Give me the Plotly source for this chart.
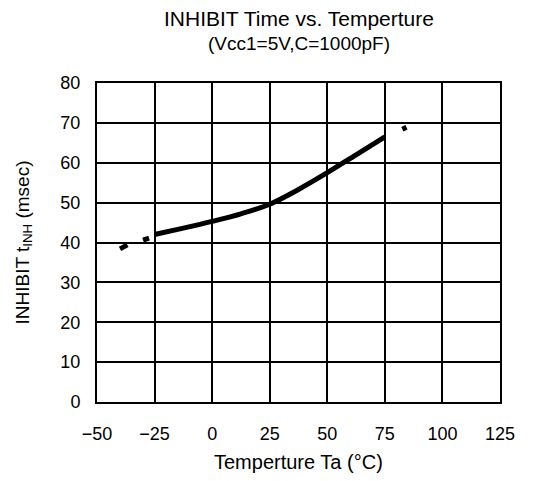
import plotly.graph_objects as go

# Data
temp_solid = [-25, -12.5, 0, 12.5, 25, 37.5, 50, 62.5, 75]
tinh_solid = [42.0, 43.6, 45.3, 47.2, 49.6, 53.3, 57.5, 62.0, 66.5]

# dashed (extrapolated) segments, separated by None
temp_dash = [-40, -36.8, None, -30, -27.4, None, 82.6, 84.4]
tinh_dash = [38.4, 39.4, None, 40.6, 41.1, None, 68.4, 68.9]

x_ticks = [-50, -25, 0, 25, 50, 75, 100, 125]
y_ticks = [0, 10, 20, 30, 40, 50, 60, 70, 80]

title_line1 = "INHIBIT Time vs. Temperture"
title_line2 = "(Vcc1=5V,C=1000pF)"
x_title = "Temperture Ta (°C)"
y_title = "INHIBIT t<sub>INH</sub> (msec)"

FONT = "Liberation Sans, Arial, sans-serif"

fig = go.Figure()
fig.add_trace(go.Scatter(x=temp_solid, y=tinh_solid, mode="lines",
                         line=dict(color="black", width=5, shape="spline"),
                         showlegend=False, hoverinfo="skip"))
fig.add_trace(go.Scatter(x=temp_dash, y=tinh_dash, mode="lines",
                         line=dict(color="black", width=5),
                         connectgaps=False, showlegend=False, hoverinfo="skip"))

axis_common = dict(showgrid=True, gridcolor="black", gridwidth=1.8,
                   showline=True, linecolor="black", linewidth=2, mirror=True,
                   zeroline=False, ticks="outside", tickcolor="rgba(0,0,0,0)",
                   tickfont=dict(family=FONT, size=18, color="black"))

fig.update_xaxes(range=[-50, 125], tickvals=x_ticks, ticklen=14, **axis_common)
fig.update_yaxes(range=[0, 80], tickvals=y_ticks, ticklen=11, **axis_common)

fig.update_layout(
    width=537, height=481,
    margin=dict(l=97, r=37, t=83, b=79),
    plot_bgcolor="white", paper_bgcolor="white",
    font=dict(family=FONT, color="black"),
    annotations=[
        dict(text=title_line1, xref="paper", yref="paper", x=0.5, y=1,
             xanchor="center", yanchor="middle", yshift=65, showarrow=False,
             font=dict(size=21, family=FONT, color="black")),
        dict(text=title_line2, xref="paper", yref="paper", x=0.5, y=1,
             xanchor="center", yanchor="middle", yshift=40, showarrow=False,
             font=dict(size=19, family=FONT, color="black")),
        dict(text=x_title, xref="paper", yref="paper", x=0.5, y=0,
             xanchor="center", yanchor="middle", yshift=-60, showarrow=False,
             font=dict(size=20, family=FONT, color="black")),
        dict(text=y_title, xref="paper", yref="paper", x=0, y=0.5,
             xanchor="center", yanchor="middle", xshift=-74, showarrow=False,
             textangle=-90, font=dict(size=19, family=FONT, color="black")),
    ],
)

fig.write_html("out.html", config={"displayModeBar": False},
               post_script="document.body.style.margin='0';document.body.style.overflow='hidden';")
